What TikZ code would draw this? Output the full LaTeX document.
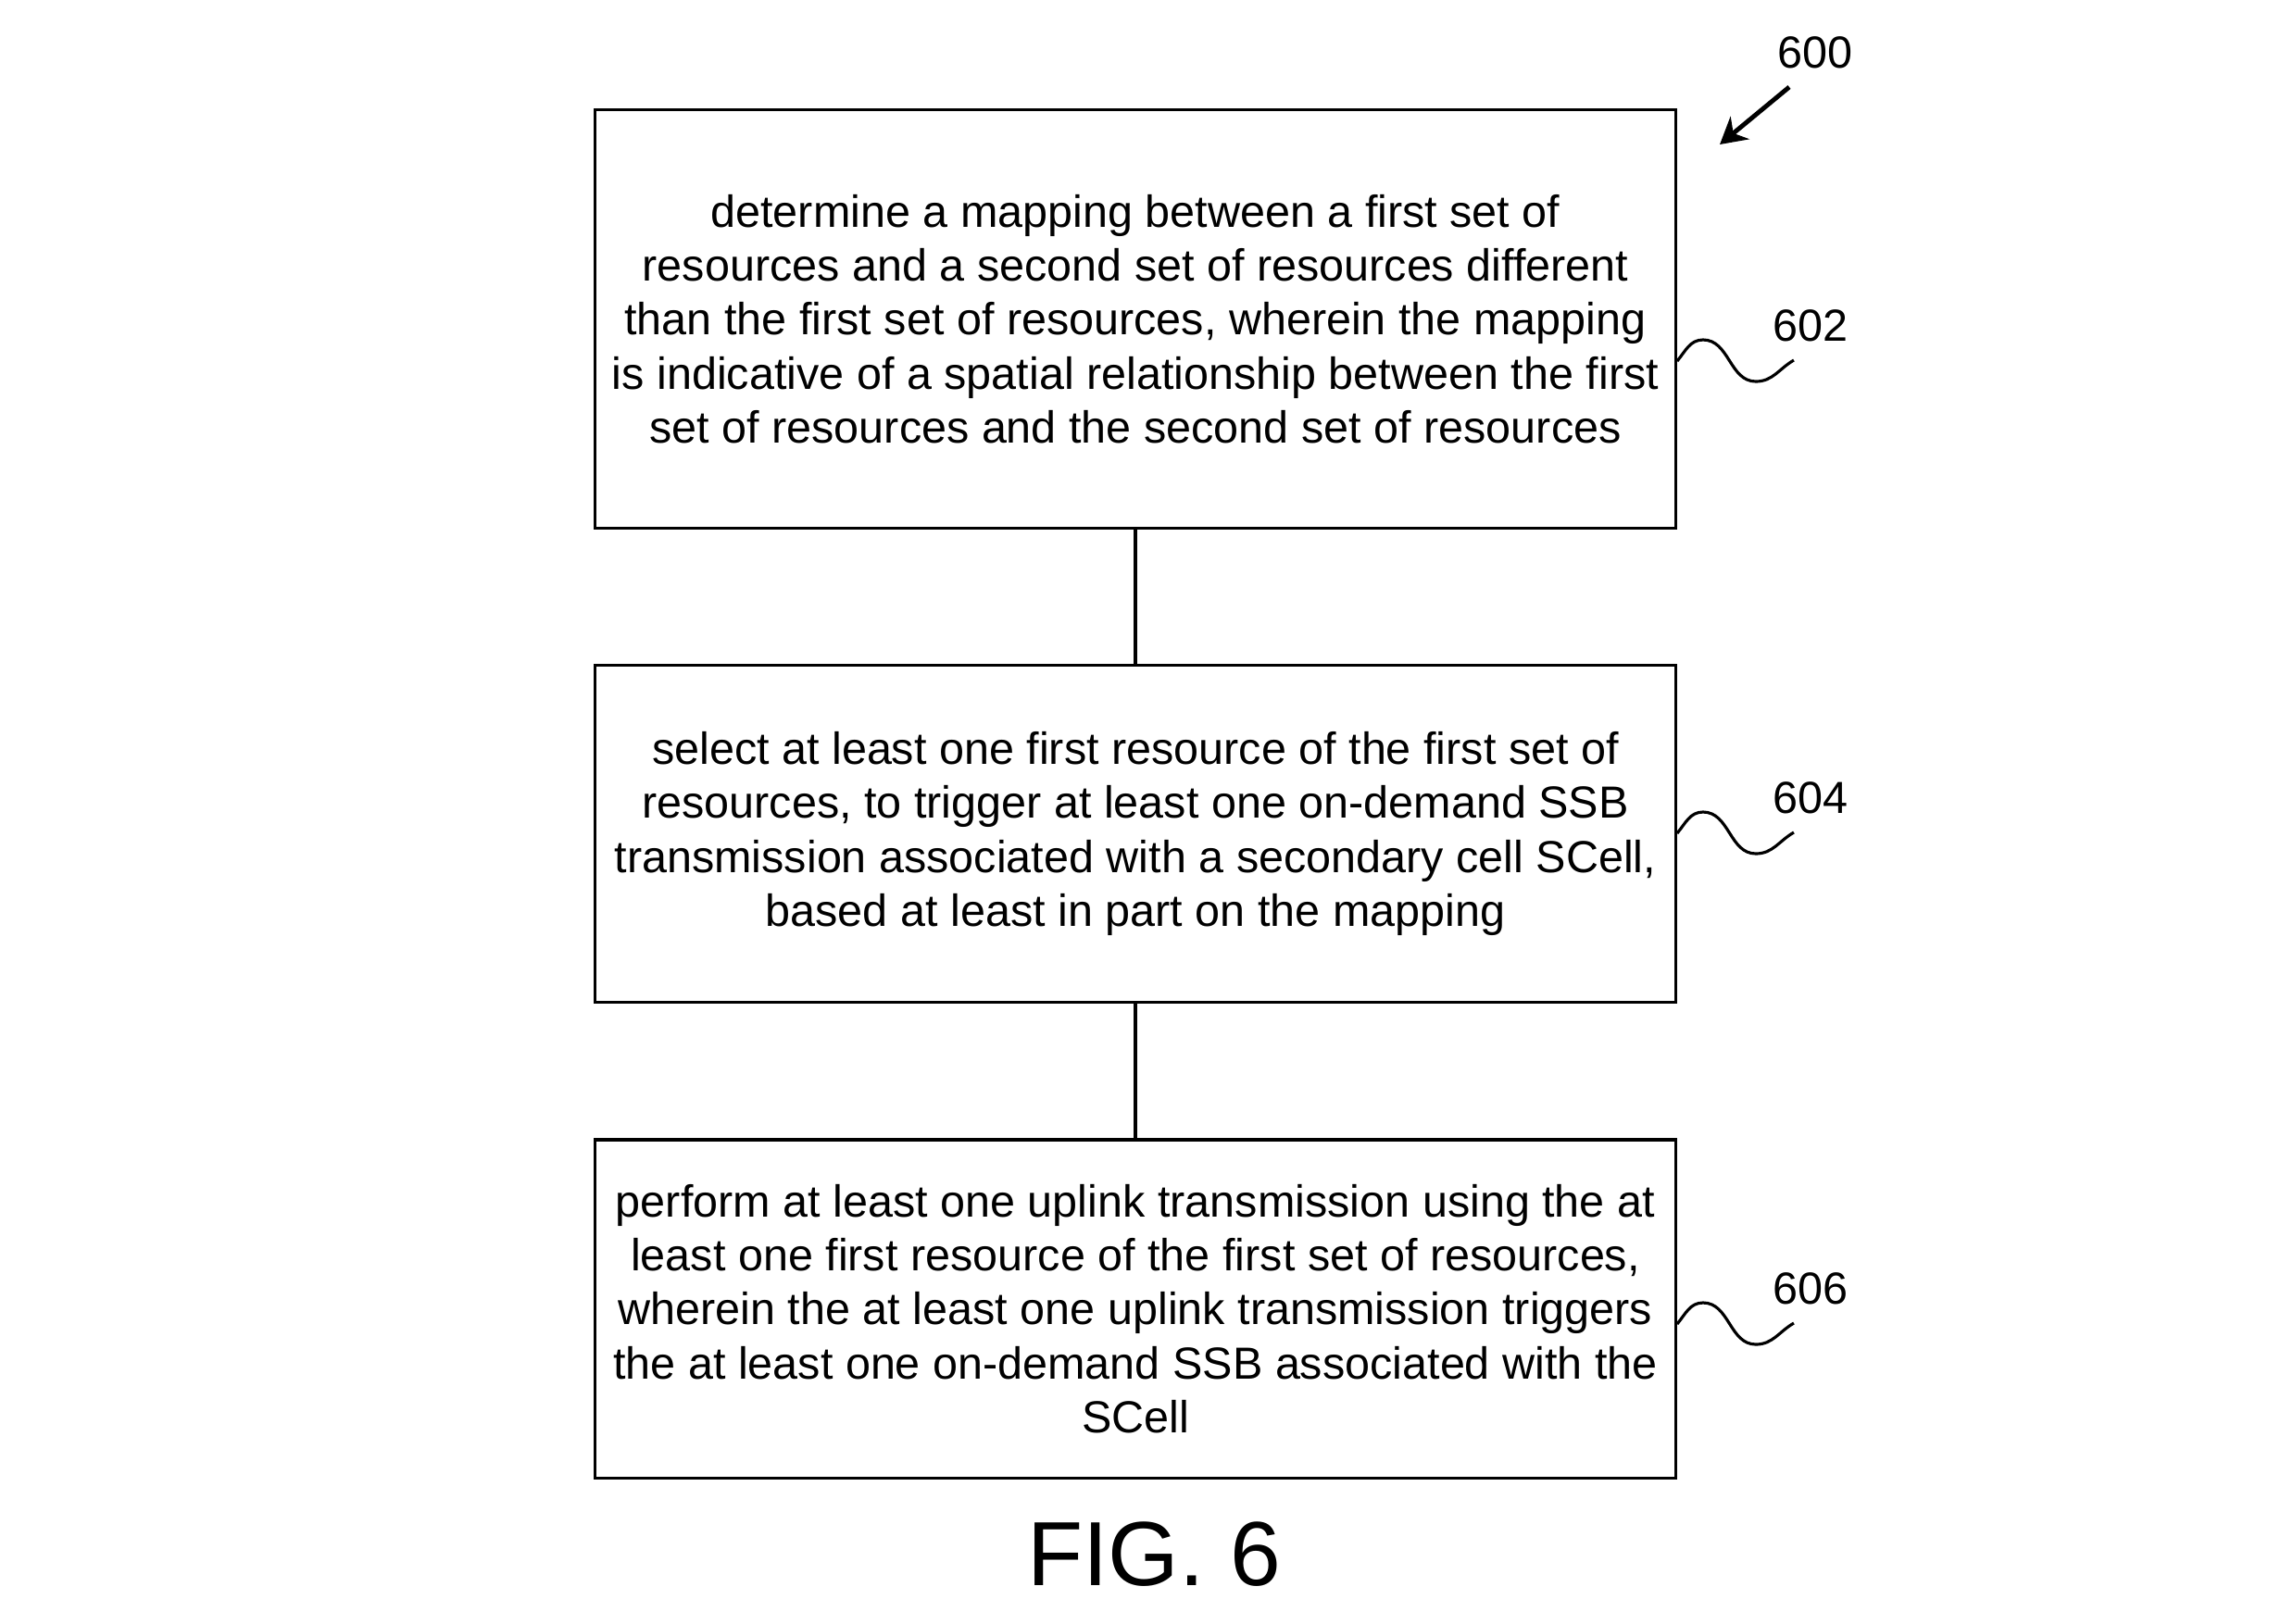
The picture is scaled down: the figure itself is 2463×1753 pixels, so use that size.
\documentclass[tikz,border=0pt]{standalone}
\usepackage{fontspec}
\setmainfont{Liberation Sans}
\usetikzlibrary{arrows.meta,calc}
\definecolor{LineClr}{rgb}{0,0,0}

\begin{document}
\begin{tikzpicture}[x=0.01cm,y=-0.01cm,
  stepbox/.style={draw=LineClr,line width=0.9pt,minimum width=11.66cm,
    align=center,inner sep=0pt,font=\fontsize{13.8}{16.6}\selectfont},
  reflabel/.style={font=\fontsize{13.8}{16.6}\selectfont,inner sep=0pt},
  squiggle/.style={line width=0.9pt}]
\useasboundingbox (0,0) rectangle (2463,1753);

\node[stepbox,minimum height=4.51cm] (b602) at (1226,344.5)
  {determine a mapping between a first set of\\
   resources and a second set of resources different\\
   than the first set of resources, wherein the mapping\\
   is indicative of a spatial relationship between the first\\
   set of resources and the second set of resources};
\node[stepbox,minimum height=3.63cm] (b604) at (1226,900.5)
  {select at least one first resource of the first set of\\
   resources, to trigger at least one on-demand SSB\\
   transmission associated with a secondary cell SCell,\\
   based at least in part on the mapping};
\node[stepbox,minimum height=3.65cm] (b606) at (1226,1413.5)
  {perform at least one uplink transmission using the at\\
   least one first resource of the first set of resources,\\
   wherein the at least one uplink transmission triggers\\
   the at least one on-demand SSB associated with the\\
   SCell};

\draw[line width=0.9pt] (b602.south) -- (b604.north);
\draw[line width=0.9pt] (b604.south) -- (b606.north);

% reference numerals
\node[reflabel] (l600) at (1960,57) {600};
\coordinate (a600) at (1932,94);
\coordinate (t600) at (1857,156);
\draw[line width=1.4pt,-{Stealth[length=8pt,width=9pt]}] (a600) -- (t600);

\foreach \num/\yy in {602/390,604/900,606/1430}{
  \coordinate (w\num) at (b602.east |- 0,\yy);
  \draw[squiggle] (w\num) to[out=50,in=180] ++(28,-23)
    to[out=0,in=180] ++(57,45) to[out=0,in=210] ++(41,-23);
  \node[reflabel] (l\num) at ($(w\num)+(144,-38)$) {\num};
}

\node[font=\fontsize{28}{32}\selectfont,anchor=base,inner sep=0pt] (fig) at (1246,1712) {FIG. 6};
\end{tikzpicture}
\end{document}
